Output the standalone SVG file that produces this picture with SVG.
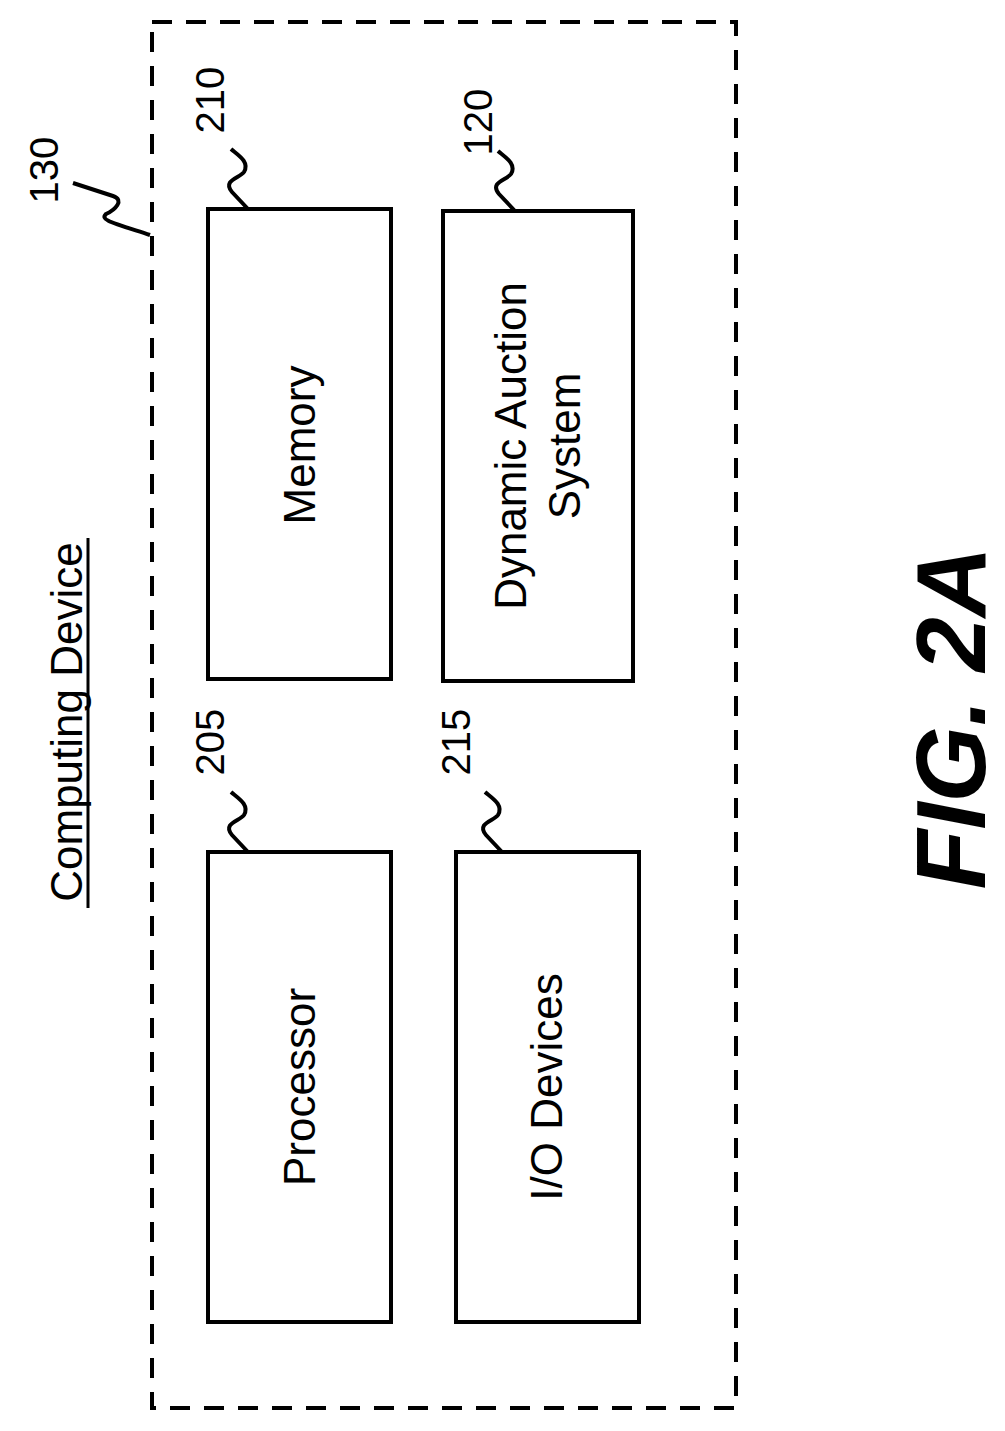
<svg xmlns="http://www.w3.org/2000/svg" width="1005" height="1431" viewBox="0 0 1005 1431">
<style>
.b{fill:#fff;stroke:#000;stroke-width:4}
.t{font-family:"Liberation Sans",Arial,sans-serif;font-size:44px;fill:#000}
.n{font-family:"Liberation Sans",Arial,sans-serif;font-size:40px;fill:#000}
.s{fill:none;stroke:#000;stroke-width:4}
</style>
<rect width="1005" height="1431" fill="#fff"/>
<g id="device">
<rect x="152" y="22" width="584" height="1386" fill="none" stroke="#000" stroke-width="4" stroke-dasharray="20,14"/>
<text class="t" transform="translate(82,722) rotate(-90)" text-anchor="middle">Computing Device</text>
<line x1="88" y1="538" x2="88" y2="908" stroke="#000" stroke-width="3"/>
<text class="n" transform="translate(58,170) rotate(-90)" text-anchor="middle">130</text>
</g>
<g id="memory">
<rect class="b" x="208" y="209" width="183" height="470"/>
<text class="t" transform="translate(315,445) rotate(-90)" text-anchor="middle">Memory</text>
<text class="n" transform="translate(224,100) rotate(-90)" text-anchor="middle">210</text>
</g>
<g id="das">
<rect class="b" x="443" y="211" width="190" height="470"/>
<text class="t" transform="translate(526,446) rotate(-90)" text-anchor="middle">Dynamic Auction</text>
<text class="t" transform="translate(580,446) rotate(-90)" text-anchor="middle">System</text>
<text class="n" transform="translate(492,122) rotate(-90)" text-anchor="middle">120</text>
</g>
<g id="processor">
<rect class="b" x="208" y="852" width="183" height="470"/>
<text class="t" transform="translate(315,1087) rotate(-90)" text-anchor="middle">Processor</text>
<text class="n" transform="translate(224,742) rotate(-90)" text-anchor="middle">205</text>
</g>
<g id="io">
<rect class="b" x="456" y="852" width="183" height="470"/>
<text class="t" transform="translate(562,1087) rotate(-90)" text-anchor="middle">I/O Devices</text>
<text class="n" transform="translate(470,742) rotate(-90)" text-anchor="middle">215</text>
</g>
<g id="connectors">
<path class="s" d="M73,183 L113,196 C125,200 115,210 106,214 C100,220 110,222 150,235"/>
<path class="s" d="M231,149 C238,155 250,162 244,172 C240,178 222,180 232,192 L248,209"/>
<path class="s" d="M498,151 C505,157 517,164 511,174 C507,180 489,182 499,194 L515,211"/>
<path class="s" d="M231,792 C238,798 250,805 244,815 C240,821 222,823 232,835 L248,852"/>
<path class="s" d="M485,792 C492,798 504,805 498,815 C494,821 476,823 486,835 L502,852"/>
</g>
<text transform="translate(985,718) rotate(-90)" text-anchor="middle" font-family="Liberation Sans,Arial,sans-serif" font-size="98" font-weight="bold" font-style="italic">FIG. 2A</text>
</svg>
